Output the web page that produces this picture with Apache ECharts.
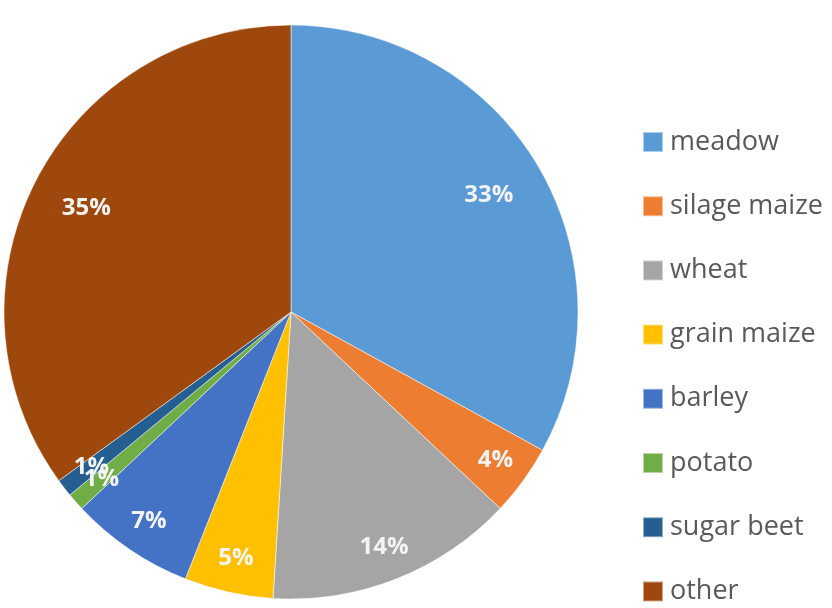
<!DOCTYPE html>
<html>
<head>
<meta charset="utf-8">
<style>
    html,body{margin:0;padding:0;background:#fff;}
    #chart{width:832px;height:608px;}
</style>
<script src="https://cdn.jsdelivr.net/npm/echarts@6/dist/echarts.min.js"></script>
</head>
<body>
<div id="chart"></div>
<script>
    // crop shares, clockwise from 12 o'clock
    var crops = ['meadow', 'silage maize', 'wheat', 'grain maize', 'barley', 'potato', 'sugar beet', 'other'];
    var shares = [33, 4, 14, 5, 7, 1, 1, 35];
    var colors = ['#5B9BD5', '#ED7D31', '#A5A5A5', '#FFC000', '#4472C4', '#70AD47', '#255E91', '#9E480E'];

    var pieCenter = [291, 312];
    var R = 287;

    var dom = document.getElementById('chart');
    var myChart = echarts.init(dom);

    var sliceData = crops.map(function (name, i) {
        return {name: name, value: shares[i]};
    });

    // transparent rings only used to place the % labels further out
    function labelRing(test) {
        return crops.map(function (name, i) {
            return {name: name, value: shares[i], label: {show: test(shares[i])}};
        });
    }
    var labelStyle = {
        position: 'inside',
        formatter: '{c}%',
        color: '#f4f4f4',
        fontFamily: 'Open Sans',
        fontWeight: 'bold',
        fontSize: 24
    };

    var option = {
        color: colors,
        animation: false,
        legend: {
            orient: 'vertical',
            left: 642,
            top: 128,
            height: 480,
            padding: 0,
            icon: 'rect',
            itemWidth: 20,
            itemHeight: 20,
            itemGap: 36.2,
            data: crops,
            textStyle: {
                color: '#595959',
                fontFamily: 'Open Sans',
                fontSize: 27,
                lineHeight: 28,
                padding: [0, 0, 0, 2]
            }
        },
        series: [
            {
                type: 'pie',
                center: pieCenter,
                radius: [0, R],
                startAngle: 90,
                clockwise: true,
                data: sliceData,
                label: {show: false},
                labelLine: {show: false},
                itemStyle: {borderColor: 'rgba(255,255,255,0.5)', borderWidth: 1}
            },
            {
                type: 'pie',
                center: pieCenter,
                radius: [R * 0.58, R],
                silent: true,
                legendHoverLink: false,
                data: labelRing(function (v) { return v >= 20; }),
                itemStyle: {color: 'rgba(0,0,0,0)'},
                label: labelStyle,
                labelLine: {show: false},
                labelLayout: {hideOverlap: false}
            },
            {
                type: 'pie',
                center: pieCenter,
                radius: [R * 0.74, R],
                silent: true,
                legendHoverLink: false,
                avoidLabelOverlap: false,
                data: labelRing(function (v) { return v < 20; }),
                itemStyle: {color: 'rgba(0,0,0,0)'},
                label: labelStyle,
                labelLine: {show: false},
                labelLayout: {hideOverlap: false}
            }
        ]
    };

    myChart.setOption(option, true);
</script>
</body>
</html>
